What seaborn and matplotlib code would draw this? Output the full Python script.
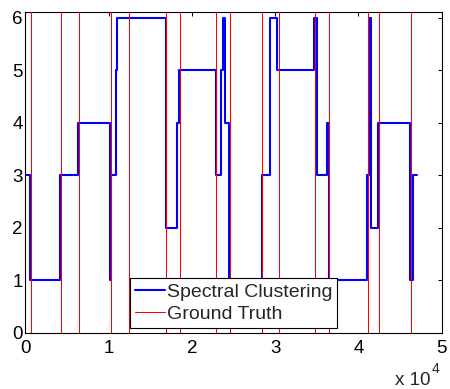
import matplotlib
matplotlib.use("Agg")
import matplotlib.pyplot as plt
import seaborn as sns
import pandas as pd

# Spectral clustering labels: step start positions and the cluster label held from there
step_starts = [0, 550, 4170, 6290, 10170, 10300, 10900, 11000, 16900, 18250, 18400,
               22890, 23490, 23770, 24010, 24420, 28380, 29380, 30180, 34700, 34980,
               36180, 36490, 40980, 41260, 41500, 42300, 46180, 46500]
step_labels = [3, 1, 3, 4, 1, 3, 5, 6, 2, 4, 5,
               3, 5, 6, 4, 1, 3, 6, 5, 6, 3,
               4, 1, 3, 6, 2, 4, 1, 3]
series_end = 46990

# Ground-truth segment boundaries
truth_bounds = [684, 4320, 6480, 10290, 12450, 16850, 18530, 22860, 24570, 28410,
                30420, 34780, 36460, 41100, 42460, 46340]

x_ticks = [0, 10000, 20000, 30000, 40000, 50000]
x_tick_labels = ["0", "1", "2", "3", "4", "5"]
y_ticks = [0, 1, 2, 3, 4, 5, 6]

sns.set_style("white")
plt.rcParams["font.family"] = ["Liberation Sans", "DejaVu Sans"]

fig = plt.figure(figsize=(4.5, 3.89), dpi=100)
ax = fig.add_axes([25.3 / 450, 1 - 332.7 / 389, (441.7 - 25.3) / 450, (332.7 - 12.3) / 389])

df = pd.DataFrame({"x": step_starts + [series_end], "y": step_labels + [step_labels[-1]]})
sns.lineplot(data=df, x="x", y="y", ax=ax, color=(0, 0, 1), linewidth=1.5,
             drawstyle="steps-post", estimator=None, sort=False,
             label="Spectral Clustering", zorder=2)

for i, b in enumerate(truth_bounds):
    ax.axvline(b, color=(1, 0, 0), linewidth=0.75, zorder=3,
               label="Ground Truth" if i == 0 else None)

ax.set_xlim(0, 50000)
ax.set_ylim(0, 6.1)
ax.set_xticks(x_ticks)
ax.set_xticklabels(x_tick_labels)
ax.set_yticks(y_ticks)
ax.set_xlabel("")
ax.set_ylabel("")
ax.tick_params(direction="in", top=True, right=True, length=3.2, width=0.75,
               labelsize=13.5, colors="black")
ax.tick_params(axis="x", pad=5)
ax.tick_params(axis="y", pad=2)
for s in ax.spines.values():
    s.set_visible(True)
    s.set_color("black")
    s.set_linewidth(0.8)

leg = ax.legend(loc="lower center", bbox_to_anchor=(0.5, 0.015), borderaxespad=0,
                fontsize=14, frameon=True, fancybox=False, shadow=False,
                handlelength=1.55, handletextpad=0.1, labelspacing=0.25,
                borderpad=0.25)
leg.get_frame().set_edgecolor("black")
leg.get_frame().set_linewidth(0.8)
leg.get_frame().set_alpha(1)

fig.text(395 / 450, 1 - 385 / 389, "x 10", fontsize=13.5, ha="left", va="baseline")
fig.text(432 / 450, 1 - 373 / 389, "4", fontsize=10, ha="left", va="baseline")

fig.savefig("out.png", dpi=100)
